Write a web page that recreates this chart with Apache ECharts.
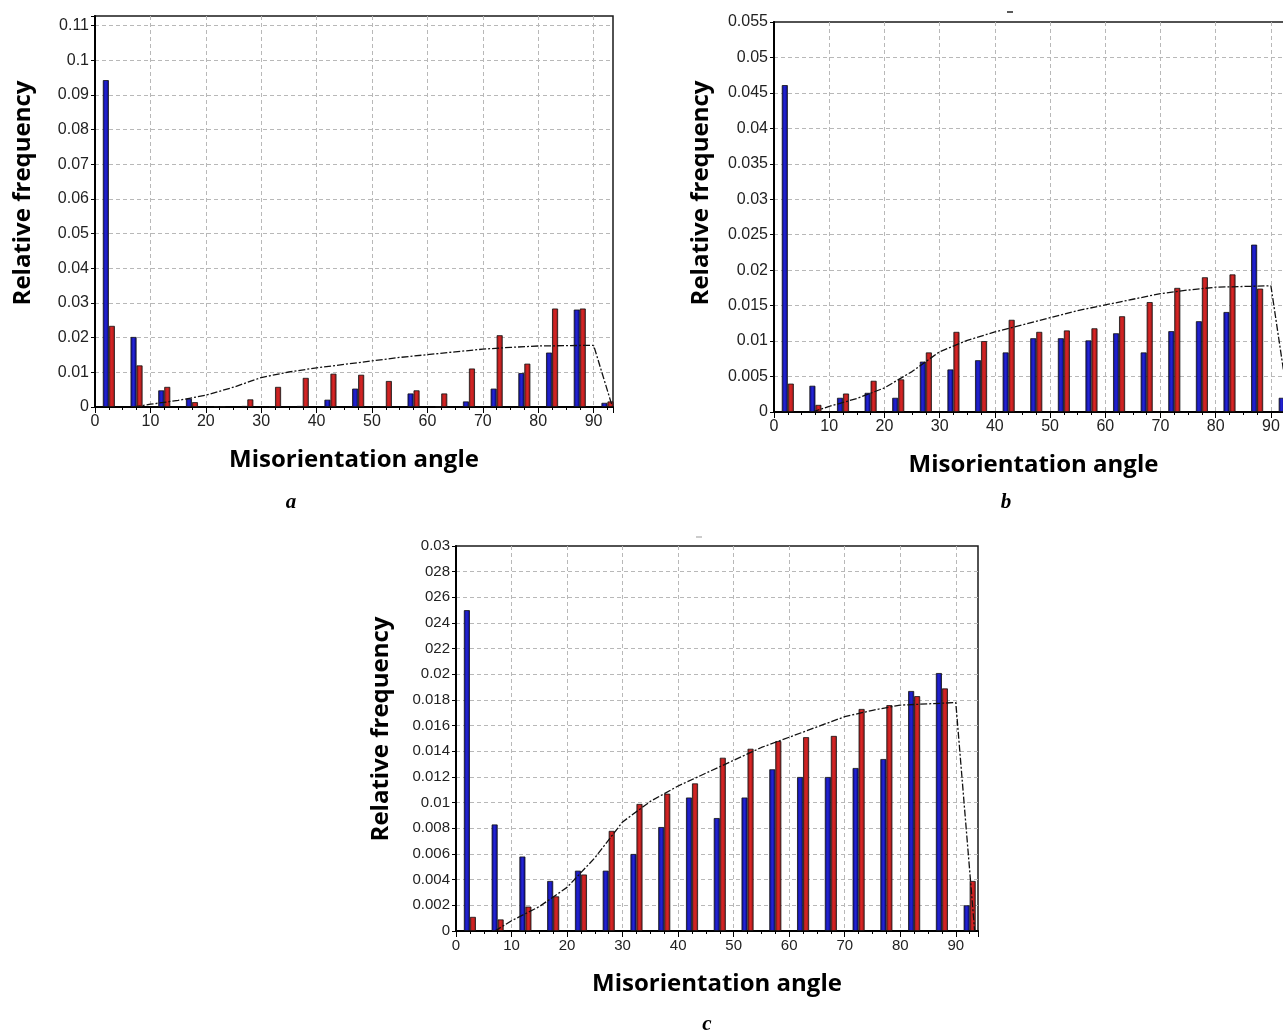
<!DOCTYPE html>
<html>
<head>
<meta charset="utf-8">
<script src="https://cdn.jsdelivr.net/npm/echarts@6/dist/echarts.min.js"></script>
<style>
html, body { margin: 0; padding: 0; overflow: hidden; background: #fff; }
#chart { width: 1310px; height: 1036px; }
</style>
</head>
<body>
<div id="chart"></div>
<script>
// bin centres, degrees
var angles = [2.5, 7.5, 12.5, 17.5, 22.5, 27.5, 32.5, 37.5, 42.5, 47.5, 52.5, 57.5, 62.5, 67.5, 72.5, 77.5, 82.5, 87.5, 92.5];

// panel a
var aBlue = [0.0943, 0.0202, 0.0048, 0.0024, 0.0002, 0.0003, 0.0001, 0.0003, 0.0021, 0.0053, 0.0002, 0.0039, 0.0001, 0.0016, 0.0053, 0.0098, 0.0157, 0.0281, 0.0012];
var aRed = [0.0234, 0.0120, 0.0058, 0.0014, 0.0002, 0.0022, 0.0058, 0.0084, 0.0096, 0.0093, 0.0075, 0.0048, 0.0039, 0.0111, 0.0207, 0.0125, 0.0284, 0.0284, 0.0016];
// panel b
var bBlue = [0.0461, 0.0037, 0.0020, 0.0027, 0.0020, 0.0071, 0.0060, 0.0073, 0.0084, 0.0104, 0.0104, 0.0101, 0.0111, 0.0084, 0.0114, 0.0128, 0.0141, 0.0236, 0.0020];
var bRed = [0.0040, 0.0010, 0.0026, 0.0044, 0.0046, 0.0084, 0.0113, 0.0100, 0.0130, 0.0113, 0.0115, 0.0118, 0.0135, 0.0155, 0.0175, 0.0190, 0.0194, 0.0174, 0.0020];
// panel c
var cBlue = [0.0250, 0.0083, 0.0058, 0.0039, 0.0047, 0.0047, 0.0060, 0.0081, 0.0104, 0.0088, 0.0104, 0.0126, 0.0120, 0.0120, 0.0127, 0.0134, 0.0187, 0.0201, 0.0020];
var cRed = [0.0011, 0.0009, 0.0019, 0.0027, 0.0044, 0.0078, 0.0099, 0.0107, 0.0115, 0.0135, 0.0142, 0.0148, 0.0151, 0.0152, 0.0173, 0.0176, 0.0183, 0.0189, 0.0039];

// random (Mackenzie) curve, same in every panel
var randAngles = [7, 10, 15, 20, 25, 30, 35, 40, 45, 50, 55, 60, 65, 70, 75, 80, 85, 90, 93.4];
var randFreq = [0, 0.0008, 0.0019, 0.0034, 0.0057, 0.0085, 0.0101, 0.0113, 0.0123, 0.0133, 0.0143, 0.0151, 0.0159, 0.0167, 0.0172, 0.0176, 0.0177, 0.0178, 0];

// tick labels
var aTicks = ['0', '0.01', '0.02', '0.03', '0.04', '0.05', '0.06', '0.07', '0.08', '0.09', '0.1', '0.11'];
var bTicks = ['0', '0.005', '0.01', '0.015', '0.02', '0.025', '0.03', '0.035', '0.04', '0.045', '0.05', '0.055'];
var cTicks = ['0', '0.002', '0.004', '0.006', '0.008', '0.01', '0.012', '0.014', '0.016', '0.018', '0.02', '022', '024', '026', '028', '0.03'];

var chart = echarts.init(document.getElementById('chart'));

function pairs(xs, ys) {
	var out = [];
	for (var i = 0; i < xs.length; i++) out.push([xs[i], ys[i]]);
	return out;
}

var blueFill = new echarts.graphic.LinearGradient(0, 0, 1, 0, [
	{ offset: 0, color: '#0c0c86' }, { offset: 0.5, color: '#2424d8' }, { offset: 1, color: '#08087a' }]);
var redFill = new echarts.graphic.LinearGradient(0, 0, 1, 0, [
	{ offset: 0, color: '#8e1e1e' }, { offset: 0.5, color: '#dc2424' }, { offset: 1, color: '#8a1a1a' }]);

var gridLine = { show: true, showMinLine: false, showMaxLine: false, lineStyle: { color: '#b8b8b8', type: [4, 3] } };

function xAx(idx, max, fs) {
	return {
		type: 'value', gridIndex: idx, min: 0, max: max, interval: 10,
		axisLine: { lineStyle: { color: '#000', width: 2 } },
		axisTick: { show: true, length: 6, lineStyle: { color: '#000' } },
		minorTick: { show: true, splitNumber: 4, length: 3, lineStyle: { color: '#000' } },
		axisLabel: { color: '#222', fontSize: fs, fontFamily: 'Liberation Sans', margin: 7, showMaxLabel: false },
		splitLine: gridLine,
		name: 'Misorientation angle', nameLocation: 'middle', nameGap: 41,
		nameTextStyle: { fontSize: 24, fontWeight: 'bold', fontFamily: 'Open Sans', color: '#000' }
	};
}

function yAx(idx, max, step, labels, fs) {
	return {
		type: 'value', gridIndex: idx, min: 0, max: max, interval: step,
		axisLine: { show: true, lineStyle: { color: '#000', width: 2 } },
		axisTick: { show: true, length: 4, lineStyle: { color: '#000' } },
		axisLabel: {
			color: '#222', fontSize: fs, fontFamily: 'Liberation Sans', margin: 6,
			formatter: function (v) {
				var k = Math.round(v / step);
				if (Math.abs(v - k * step) > step * 0.01) return '';
				return labels[k] !== undefined ? labels[k] : '';
			}
		},
		splitLine: gridLine
	};
}

function barSeries(idx, ys, fill) {
	return {
		type: 'bar', xAxisIndex: idx, yAxisIndex: idx,
		data: pairs(angles, ys), barWidth: 6, barGap: '0%',
		itemStyle: { color: fill, borderColor: '#111', borderWidth: 0.8 },
		silent: true
	};
}

function randSeries(idx) {
	return {
		type: 'line', xAxisIndex: idx, yAxisIndex: idx, z: 5,
		data: pairs(randAngles, randFreq), symbol: 'none',
		lineStyle: { color: '#111', width: 1.3, type: [7, 2, 2, 2] },
		silent: true
	};
}

var gridStyle = { show: true, borderColor: '#1a1a1a', borderWidth: 1.5, backgroundColor: '#fff' };

function label(text, x, y, font, rot) {
	return { type: 'text', x: x, y: y, rotation: rot || 0, style: { text: text, font: font, fill: '#000', align: 'center', verticalAlign: 'middle' } };
}

var nameFont = 'bold 24px "Open Sans"';
var letterFont = 'italic bold 21px "Liberation Serif"';

var option = {
	animation: false,
	grid: [
		Object.assign({ left: 95, top: 16, width: 518, height: 391 }, gridStyle),
		Object.assign({ left: 774, top: 22, width: 519, height: 390 }, gridStyle),
		Object.assign({ left: 456, top: 546, width: 522, height: 385 }, gridStyle)
	],
	xAxis: [xAx(0, 93.5, 16), xAx(1, 94, 16), xAx(2, 94, 15)],
	yAxis: [
		yAx(0, 0.1128, 0.01, aTicks, 16),
		yAx(1, 0.055, 0.005, bTicks, 16),
		yAx(2, 0.03, 0.002, cTicks, 15)
	],
	series: [
		barSeries(0, aBlue, blueFill), barSeries(0, aRed, redFill), randSeries(0),
		barSeries(1, bBlue, blueFill), barSeries(1, bRed, redFill), randSeries(1),
		barSeries(2, cBlue, blueFill), barSeries(2, cRed, redFill), randSeries(2)
	],
	graphic: [
		label('Relative frequency', 23, 193, nameFont, Math.PI / 2),
		label('Relative frequency', 701, 193, nameFont, Math.PI / 2),
		label('Relative frequency', 381, 729, nameFont, Math.PI / 2),
		label('a', 291, 503, letterFont),
		label('b', 1006, 503, letterFont),
		label('c', 707, 1025, letterFont),
		{ type: 'line', shape: { x1: 1007, y1: 12, x2: 1013, y2: 12 }, style: { stroke: '#222', lineWidth: 1.5 } },
		{ type: 'line', shape: { x1: 696, y1: 537, x2: 702, y2: 537 }, style: { stroke: '#999', lineWidth: 1 } }
	]
};

chart.setOption(option);
</script>
</body>
</html>
